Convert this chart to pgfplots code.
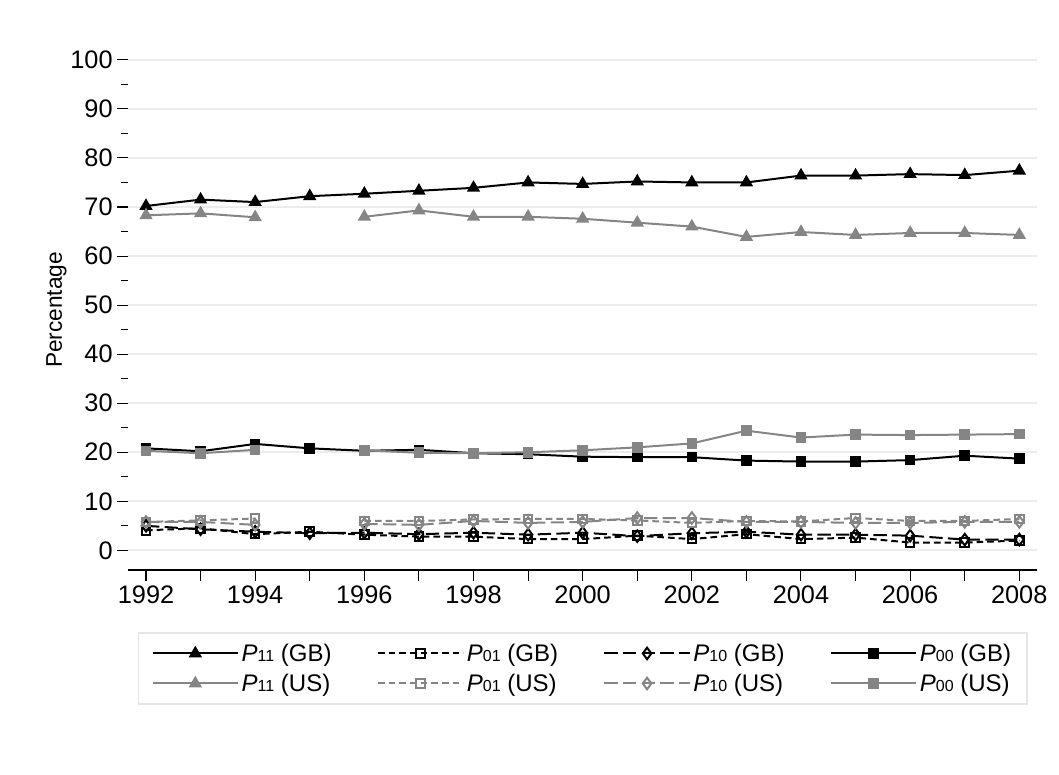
\documentclass[border=0pt]{standalone}
\usepackage{pgfplots}
\pgfplotsset{compat=1.18}
\usepackage{fontspec}
\setmainfont{Liberation Sans}
\definecolor{g}{gray}{0.52}
\begin{document}
\begin{tikzpicture}
\useasboundingbox (-96pt,-153pt) rectangle (698.25pt,427.5pt);
\begin{axis}[
  at={(0,0)}, anchor=south west,
  width=682pt, height=390pt, scale only axis,
  xmin=1991.67, xmax=2008.33, ymin=-4, ymax=102,
  axis x line*=bottom, axis y line*=left,
  y axis line style={draw=none},
  xtick={1992,...,2008},
  xticklabels={1992,,1994,,1996,,1998,,2000,,2002,,2004,,2006,,2008},
  ytick={0,10,...,100}, minor ytick={5,15,...,95},
  tick align=outside, major tick length=8pt, minor tick length=5pt,
  tick style={black, line width=0.8pt},
  x axis line style={line width=0.8pt},
  ymajorgrids, major grid style={gray!15, line width=1.5pt},
  /pgf/number format/assume math mode=true,
  ticklabel style={font=\fontsize{19}{22}\selectfont},
  ylabel={Percentage}, ylabel style={font=\fontsize{17}{20}\selectfont, yshift=-4pt},
  unbounded coords=jump,
  every axis plot/.append style={line width=1.5pt, mark size=4.3pt},
  legend columns=4,
  legend image code/.code={\draw[#1,mark=none] (0pt,0pt) -- (64pt,0pt); \path[#1,draw=none] plot coordinates {(32pt,0pt)};},
  legend style={at={(0.5,-0.12)}, anchor=north, draw=gray!20, line width=1pt,
    font=\fontsize{18}{21}\selectfont, /tikz/every even column/.append style={column sep=32pt},
    inner xsep=10pt, inner ysep=6pt, row sep=4pt},
  legend cell align=left,
]
\addplot[black, mark=triangle*] coordinates {(1992,70.2)(1993,71.5)(1994,71)(1995,72.2)(1996,72.7)(1997,73.3)(1998,73.9)(1999,75)(2000,74.7)(2001,75.2)(2002,75)(2003,75)(2004,76.4)(2005,76.4)(2006,76.7)(2007,76.5)(2008,77.4)};
\addlegendentry{\textit{P}{\fontsize{12}{12}\selectfont 11} (GB)}
\addplot[black, dash pattern=on 5pt off 3pt, mark=square, mark options={solid,fill=white}, mark size=3.2pt] coordinates {(1992,4.1)(1993,4.5)(1994,3.3)(1995,3.8)(1996,3.2)(1997,2.8)(1998,2.8)(1999,2.3)(2000,2.3)(2001,3)(2002,2.3)(2003,3.3)(2004,2.3)(2005,2.6)(2006,1.6)(2007,1.6)(2008,2)};
\addlegendentry{\textit{P}{\fontsize{12}{12}\selectfont 01} (GB)}
\addplot[black, dash pattern=on 10pt off 4pt, mark=diamond, mark options={solid,fill=white}] coordinates {(1992,5)(1993,4.3)(1994,3.8)(1995,3.5)(1996,3.6)(1997,3.3)(1998,3.6)(1999,3.2)(2000,3.6)(2001,2.9)(2002,3.5)(2003,3.8)(2004,3.2)(2005,3.2)(2006,3)(2007,2.2)(2008,2.2)};
\addlegendentry{\textit{P}{\fontsize{12}{12}\selectfont 10} (GB)}
\addplot[black, mark=square*, mark size=3.2pt] coordinates {(1992,20.8)(1993,20.2)(1994,21.7)(1995,20.8)(1996,20.3)(1997,20.5)(1998,19.8)(1999,19.6)(2000,19.1)(2001,19)(2002,19)(2003,18.3)(2004,18.1)(2005,18.1)(2006,18.4)(2007,19.3)(2008,18.7)};
\addlegendentry{\textit{P}{\fontsize{12}{12}\selectfont 00} (GB)}
\addplot[g, mark=triangle*] coordinates {(1992,68.3)(1993,68.7)(1994,67.9)(1995,nan)(1996,68)(1997,69.3)(1998,68)(1999,68)(2000,67.6)(2001,66.8)(2002,66)(2003,63.9)(2004,64.9)(2005,64.3)(2006,64.7)(2007,64.7)(2008,64.3)};
\addlegendentry{\textit{P}{\fontsize{12}{12}\selectfont 11} (US)}
\addplot[g, dash pattern=on 5pt off 3pt, mark=square, mark options={solid,fill=white}, mark size=3.2pt] coordinates {(1992,5.8)(1993,6.1)(1994,6.5)(1995,nan)(1996,6)(1997,6)(1998,6.3)(1999,6.4)(2000,6.4)(2001,6.1)(2002,5.6)(2003,6)(2004,5.9)(2005,6.6)(2006,6)(2007,6)(2008,6.4)};
\addlegendentry{\textit{P}{\fontsize{12}{12}\selectfont 01} (US)}
\addplot[g, dash pattern=on 10pt off 4pt, mark=diamond, mark options={solid,fill=white}] coordinates {(1992,5.8)(1993,5.8)(1994,5.2)(1995,nan)(1996,5.4)(1997,5.2)(1998,6)(1999,5.6)(2000,5.8)(2001,6.6)(2002,6.6)(2003,5.8)(2004,5.8)(2005,5.6)(2006,5.6)(2007,5.8)(2008,5.8)};
\addlegendentry{\textit{P}{\fontsize{12}{12}\selectfont 10} (US)}
\addplot[g, mark=square*, mark size=3.2pt] coordinates {(1992,20.3)(1993,19.8)(1994,20.5)(1995,nan)(1996,20.4)(1997,19.9)(1998,19.8)(1999,20)(2000,20.4)(2001,21)(2002,21.8)(2003,24.4)(2004,23)(2005,23.6)(2006,23.5)(2007,23.6)(2008,23.7)};
\addlegendentry{\textit{P}{\fontsize{12}{12}\selectfont 00} (US)}
\end{axis}
\end{tikzpicture}
\end{document}
